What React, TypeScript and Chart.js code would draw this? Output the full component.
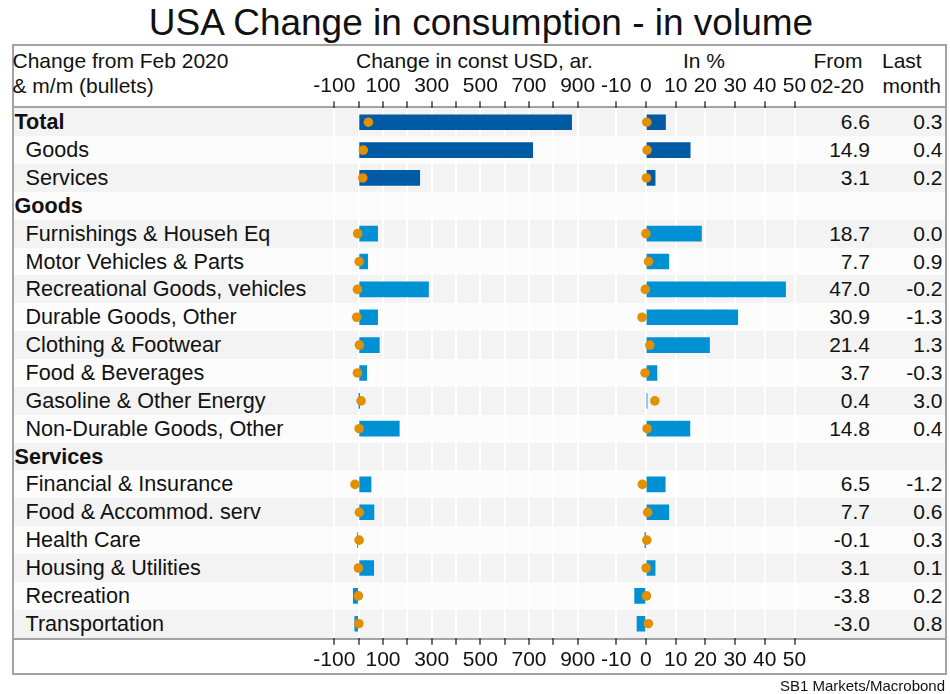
import React, { useEffect, useRef } from 'react';
import { Chart, registerables } from 'chart.js';

Chart.register(...registerables);

// ---------- data ----------
const title = 'USA Change in consumption - in volume';
const categories = [
  'Total',
  'Goods',
  'Services',
  'Goods',
  'Furnishings & Househ Eq',
  'Motor Vehicles & Parts',
  'Recreational Goods, vehicles',
  'Durable Goods, Other',
  'Clothing & Footwear',
  'Food & Beverages',
  'Gasoline & Other Energy',
  'Non-Durable Goods, Other',
  'Services',
  'Financial & Insurance',
  'Food & Accommod. serv',
  'Health Care',
  'Housing & Utilities',
  'Recreation',
  'Transportation',
];
const boldRows = [0, 3, 12];
const aggregateRows = [0, 1, 2];

// change since Feb 2020, const USD bn ar. (bars) and m/m (bullets)
const usdChange = [875, 715, 251, null, 78, 37, 287, 78, 85, 33, 1, 167, null, 51, 63, -5, 62, -22, -16];
const usdMoM = [40, 19, 17, null, -4, 2, -5, -8, 3, -5, 10, 2, null, -15, 3, 2, -1, -1, 1];

// change since Feb 2020, % (bars) and last month % (bullets)
const pctChange = [6.6, 14.9, 3.1, null, 18.7, 7.7, 47.0, 30.9, 21.4, 3.7, 0.4, 14.8, null, 6.5, 7.7, -0.1, 3.1, -3.8, -3.0];
const pctMoM = [0.3, 0.4, 0.2, null, 0.0, 0.9, -0.2, -1.3, 1.3, -0.3, 3.0, 0.4, null, -1.2, 0.6, 0.3, 0.1, 0.2, 0.8];

const usdTicks = { min: -100, max: 900, step: 100 };
const pctTicks = { min: -10, max: 50, step: 10 };

// ---------- style ----------
const FONT = '"Liberation Sans", Arial, Helvetica, sans-serif';
const DARK = '#005ba4';
const LIGHT = '#0091d5';
const ORANGE = '#e39000';
const STRIPE = '#f3f3f3';
const STRIPE2 = '#fcfcfc';
const LINE = '#a3a3a3';
const TEXT = '#111111';

const ROW_TOP = 108.3;
const ROW_H = 27.86;
const N = categories.length;
const ROW_BOTTOM = ROW_TOP + ROW_H * N;
const CANVAS_TOP = 60;
const CANVAS_H = 634;

type PanelProps = {
  left: number;
  width: number;
  areaLeft: number;
  areaRight: number;
  range: { min: number; max: number; step: number };
  values: (number | null)[];
  bullets: (number | null)[];
  labelFilter: (v: number) => boolean;
};

function Panel({ left, width, areaLeft, areaRight, range, values, bullets, labelFilter }: PanelProps) {
  const ref = useRef<HTMLCanvasElement>(null);
  useEffect(() => {
    const canvas = ref.current!;
    const colors = values.map((_, i) => (aggregateRows.includes(i) ? DARK : LIGHT));
    const tickFont = { family: FONT, size: 21, lineHeight: 1.2 };
    const axisCommon = (pos: 'top' | 'bottom', h: number, onArea: boolean) => ({
      type: 'linear' as const,
      position: pos,
      min: range.min,
      max: range.max,
      ticks: {
        stepSize: range.step,
        autoSkip: false,
        maxRotation: 0,
        minRotation: 0,
        padding: 2.7,
        color: TEXT,
        font: tickFont,
        callback: (v: any) => (labelFilter(Number(v)) ? String(v) : ''),
      },
      grid: {
        color: '#ffffff',
        lineWidth: 2,
        drawOnChartArea: onArea,
        drawTicks: true,
        tickLength: 7,
        tickColor: '#222222',
        tickWidth: 1.3,
      },
      border: { display: false },
      afterFit: (s: any) => {
        s.height = h;
      },
    });
    const chart = new Chart(canvas, {
      type: 'bar',
      data: {
        labels: categories,
        datasets: [
          {
            type: 'line',
            data: bullets as any,
            indexAxis: 'y',
            showLine: false,
            pointRadius: 4.8,
            pointHoverRadius: 4.8,
            pointBackgroundColor: ORANGE,
            pointBorderWidth: 0,
            borderWidth: 0,
            xAxisID: 'x',
            yAxisID: 'y',
            order: 0,
          } as any,
          {
            type: 'bar',
            data: values as any,
            backgroundColor: colors,
            borderWidth: 0,
            barThickness: 15,
            xAxisID: 'x',
            yAxisID: 'y',
            order: 1,
          } as any,
        ],
      },
      options: {
        indexAxis: 'y',
        responsive: false,
        animation: false,
        events: [],
        layout: {
          padding: { left: areaLeft - left, right: left + width - areaRight, top: 0, bottom: 0 },
        },
        plugins: { legend: { display: false }, tooltip: { enabled: false } },
        scales: {
          x: axisCommon('top', ROW_TOP - CANVAS_TOP, true) as any,
          x2: axisCommon('bottom', CANVAS_TOP + CANVAS_H - ROW_BOTTOM, false) as any,
          y: { type: 'category', display: false, offset: true } as any,
        },
      },
    });
    return () => chart.destroy();
  }, []);
  return (
    <canvas
      ref={ref}
      width={width}
      height={CANVAS_H}
      style={{ position: 'absolute', left, top: CANVAS_TOP, width, height: CANVAS_H }}
    />
  );
}

const fmt = (v: number | null) => (v === null ? '' : v.toFixed(1));

export default function App() {
  useEffect(() => {
    document.body.style.margin = '0';
  }, []);

  const txt = (content: string, style: React.CSSProperties, key?: any) => (
    <div
      key={key}
      style={{
        position: 'absolute',
        height: 30,
        lineHeight: '30px',
        whiteSpace: 'nowrap',
        fontSize: 21,
        ...style,
      }}
    >
      {content}
    </div>
  );

  return (
    <div
      style={{
        position: 'relative',
        width: 950,
        height: 694,
        background: '#fff',
        fontFamily: FONT,
        color: TEXT,
        overflow: 'hidden',
      }}
    >
      {/* title */}
      <div
        style={{
          position: 'absolute',
          left: 0,
          width: 962,
          top: 2,
          height: 42,
          lineHeight: '42px',
          textAlign: 'center',
          fontSize: 37,
          whiteSpace: 'nowrap',
        }}
      >
        {title}
      </div>

      {/* frame */}
      <div
        style={{
          position: 'absolute',
          left: 11.5,
          top: 44,
          width: 935,
          height: 631,
          border: `2px solid ${LINE}`,
          boxSizing: 'border-box',
        }}
      />

      {/* row stripes */}
      {categories.map((_, i) => (
        <div
          key={'s' + i}
          style={{
            position: 'absolute',
            left: 13.5,
            width: 931,
            top: ROW_TOP + i * ROW_H,
            height: ROW_H + 0.5,
            background: i % 2 === 0 ? STRIPE : STRIPE2,
          }}
        />
      ))}

      {/* header / footer lines */}
      <div style={{ position: 'absolute', left: 13.5, width: 931, top: ROW_TOP - 2, height: 2, background: LINE }} />
      <div style={{ position: 'absolute', left: 13.5, width: 931, top: ROW_BOTTOM, height: 2, background: LINE }} />

      {/* header texts */}
      {txt('Change from Feb 2020', { left: 12.5, top: 60.5 - 15 })}
      {txt('& m/m (bullets)', { left: 12.5, top: 85.5 - 15 })}
      {txt('Change in const USD, ar.', { left: 356, width: 200, top: 60.5 - 15, textAlign: 'center' })}
      {txt('In %', { left: 604, width: 200, top: 60.5 - 15, textAlign: 'center' })}
      {txt('From', { left: 788, width: 100, top: 60.5 - 15, textAlign: 'center' })}
      {txt('02-20', { left: 787, width: 100, top: 85.5 - 15, textAlign: 'center' })}
      {txt('Last', { left: 882, top: 60.5 - 15 })}
      {txt('month', { left: 882.5, top: 85.5 - 15 })}

      {/* row labels and values */}
      {categories.map((c, i) => {
        const cy = ROW_TOP + (i + 0.5) * ROW_H;
        const bold = boldRows.includes(i);
        return (
          <React.Fragment key={'r' + i}>
            {txt(c, {
              left: bold ? 14.5 : 25.5,
              top: cy - 15,
              fontSize: 21.6,
              fontWeight: bold ? 'bold' : 'normal',
            })}
            {txt(fmt(pctChange[i]), { left: 770, width: 100, top: cy - 15, textAlign: 'right' })}
            {txt(fmt(pctMoM[i]), { left: 842.5, width: 100, top: cy - 15, textAlign: 'right' })}
          </React.Fragment>
        );
      })}

      {/* bar panels */}
      <Panel
        left={280}
        width={340}
        areaLeft={334.3}
        areaRight={577.7}
        range={usdTicks}
        values={usdChange}
        bullets={usdMoM}
        labelFilter={(v) => (v + 100) % 200 === 0}
      />
      <Panel
        left={585}
        width={240}
        areaLeft={616.2}
        areaRight={794.5}
        range={pctTicks}
        values={pctChange}
        bullets={pctMoM}
        labelFilter={() => true}
      />

      {/* source */}
      <div
        style={{
          position: 'absolute',
          right: 5,
          top: 676,
          height: 20,
          lineHeight: '20px',
          fontSize: 15,
          whiteSpace: 'nowrap',
        }}
      >
        SB1 Markets/Macrobond
      </div>
    </div>
  );
}
